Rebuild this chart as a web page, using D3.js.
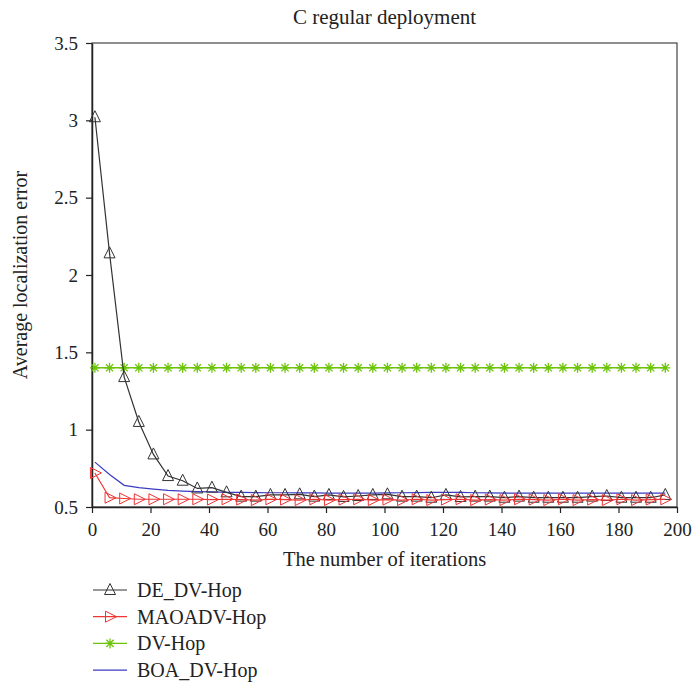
<!DOCTYPE html>
<html>
<head>
<meta charset="utf-8">
<script src="https://cdn.jsdelivr.net/npm/d3@7"></script>
<style>
  body { margin: 0; background: #fff; }
  text { font-family: "Liberation Serif", "DejaVu Serif", serif; fill: #222; }
</style>
</head>
<body>
<svg width="693" height="684"></svg>
<script>
// iteration numbers where values were sampled
var iters = [1, 6, 11, 16, 21, 26, 31, 36, 41, 46, 51, 56, 61, 66, 71, 76, 81, 86, 91, 96,
             101, 106, 111, 116, 121, 126, 131, 136, 141, 146, 151, 156, 161, 166, 171, 176, 181, 186, 191, 196];

var deDvHop = [3.02, 2.14, 1.34, 1.05, 0.84, 0.70, 0.67, 0.62, 0.625, 0.595,
               0.567, 0.567, 0.578, 0.578, 0.582, 0.567, 0.578, 0.565, 0.571, 0.578,
               0.582, 0.567, 0.567, 0.56, 0.578, 0.565, 0.567, 0.567, 0.56, 0.567,
               0.56, 0.56, 0.56, 0.56, 0.567, 0.571, 0.56, 0.56, 0.56, 0.578];

var maoaDvHop = [0.72, 0.56, 0.555, 0.55, 0.55, 0.55, 0.55, 0.55, 0.548, 0.55,
                 0.548, 0.545, 0.55, 0.548, 0.545, 0.55, 0.545, 0.548, 0.55, 0.545,
                 0.548, 0.545, 0.55, 0.545, 0.548, 0.55, 0.545, 0.548, 0.545, 0.55,
                 0.548, 0.545, 0.55, 0.545, 0.548, 0.545, 0.55, 0.545, 0.548, 0.55];

var dvHop = [1.4, 1.4, 1.4, 1.4, 1.4, 1.4, 1.4, 1.4, 1.4, 1.4,
             1.4, 1.4, 1.4, 1.4, 1.4, 1.4, 1.4, 1.4, 1.4, 1.4,
             1.4, 1.4, 1.4, 1.4, 1.4, 1.4, 1.4, 1.4, 1.4, 1.4,
             1.4, 1.4, 1.4, 1.4, 1.4, 1.4, 1.4, 1.4, 1.4, 1.4];

var boaDvHop = [0.79, 0.71, 0.64, 0.625, 0.615, 0.607, 0.603, 0.6, 0.598, 0.595,
                0.594, 0.593, 0.592, 0.592, 0.591, 0.591, 0.59, 0.59, 0.59, 0.59,
                0.591, 0.592, 0.593, 0.594, 0.595, 0.594, 0.592, 0.591, 0.59, 0.59,
                0.59, 0.59, 0.59, 0.59, 0.59, 0.59, 0.59, 0.59, 0.59, 0.59];

var xTicks = [0, 20, 40, 60, 80, 100, 120, 140, 160, 180, 200];
var yTicks = [0.5, 1, 1.5, 2, 2.5, 3, 3.5];
var yTickLabels = ["0.5", "1", "1.5", "2", "2.5", "3", "3.5"];

var seriesNames = ["DE_DV-Hop", "MAOADV-Hop", "DV-Hop", "BOA_DV-Hop"];
var seriesColors = ["#333333", "#f03434", "#6cc40a", "#3b3bc4"];
var seriesMarkers = ["triangle", "right", "star", "none"];
var seriesValues = [deDvHop, maoaDvHop, dvHop, boaDvHop];

var svg = d3.select("svg"),
    margin = {top: 43, right: 16, bottom: 177, left: 92},
    width = 693 - margin.left - margin.right,
    height = 684 - margin.top - margin.bottom;

var x = d3.scaleLinear().domain([0, 200]).range([margin.left, margin.left + width]);
var y = d3.scaleLinear().domain([0.5, 3.5]).range([margin.top + height, margin.top]);

// draw a marker at (cx, cy)
function drawMarker(g, type, cx, cy, color) {
  var s = 5.5;
  if (type === "triangle") {
    g.append("path")
      .attr("d", "M" + cx + "," + (cy - s - 1) + "L" + (cx + s) + "," + (cy + s - 1) + "L" + (cx - s) + "," + (cy + s - 1) + "Z")
      .attr("fill", "none").attr("stroke", color).attr("stroke-width", 1);
  } else if (type === "right") {
    g.append("path")
      .attr("d", "M" + (cx + s + 1) + "," + cy + "L" + (cx - s + 1) + "," + (cy - s) + "L" + (cx - s + 1) + "," + (cy + s) + "Z")
      .attr("fill", "none").attr("stroke", color).attr("stroke-width", 1);
  } else if (type === "star") {
    var r = 5, d = r * 0.72;
    g.append("path")
      .attr("d", "M" + (cx - r) + "," + cy + "L" + (cx + r) + "," + cy +
                 "M" + cx + "," + (cy - r) + "L" + cx + "," + (cy + r) +
                 "M" + (cx - d) + "," + (cy - d) + "L" + (cx + d) + "," + (cy + d) +
                 "M" + (cx - d) + "," + (cy + d) + "L" + (cx + d) + "," + (cy - d))
      .attr("fill", "none").attr("stroke", color).attr("stroke-width", 1.3);
  }
}

// box
svg.append("rect")
  .attr("x", margin.left).attr("y", margin.top)
  .attr("width", width).attr("height", height)
  .attr("fill", "none").attr("stroke", "#444").attr("stroke-width", 1.2);

// axes
var xAxis = svg.append("g")
  .attr("transform", "translate(0," + (margin.top + height) + ")")
  .call(d3.axisBottom(x).tickValues(xTicks).tickSize(6).tickSizeOuter(0));
var yAxis = svg.append("g")
  .attr("transform", "translate(" + margin.left + ",0)")
  .call(d3.axisLeft(y).tickValues(yTicks).tickSize(6).tickSizeOuter(0)
    .tickFormat(function(d, i) { return yTickLabels[i]; }));

[xAxis, yAxis].forEach(function(a) {
  a.select(".domain").attr("stroke", "#222").attr("stroke-width", 1.5);
  a.selectAll(".tick line").attr("stroke", "#222").attr("stroke-width", 1.2);
  a.selectAll(".tick text").attr("font-size", 19).attr("font-family", "Liberation Serif").attr("fill", "#222");
});
xAxis.selectAll(".tick text").attr("dy", "1.05em");
yAxis.selectAll(".tick text").attr("x", -14);

// series
var line = d3.line()
  .x(function(d) { return x(d[0]); })
  .y(function(d) { return y(d[1]); });

var plot = svg.append("g");
// draw in order: blue, green, black, red so red markers on top
[3, 2, 0, 1].forEach(function(k) {
  var pts = iters.map(function(it, i) { return [it, seriesValues[k][i]]; });
  plot.append("path")
    .datum(pts)
    .attr("d", line)
    .attr("fill", "none")
    .attr("stroke", seriesColors[k])
    .attr("stroke-width", k === 2 ? 1.5 : 1.2);
  var mg = plot.append("g");
  pts.forEach(function(p) {
    drawMarker(mg, seriesMarkers[k], x(p[0]), y(p[1]), seriesColors[k]);
  });
});

// titles
svg.append("text")
  .attr("x", margin.left + width / 2).attr("y", 24)
  .attr("text-anchor", "middle").attr("font-size", 21)
  .text("C regular deployment");

svg.append("text")
  .attr("x", margin.left + width / 2).attr("y", 566)
  .attr("text-anchor", "middle").attr("font-size", 20.5)
  .text("The number of iterations");

svg.append("text")
  .attr("transform", "translate(27," + (margin.top + height / 2) + ") rotate(-90)")
  .attr("text-anchor", "middle").attr("font-size", 20)
  .text("Average localization error");

// legend
var legend = svg.append("g");
seriesNames.forEach(function(name, i) {
  var ly = 590 + i * 26.7;
  legend.append("line")
    .attr("x1", 93).attr("x2", 127).attr("y1", ly).attr("y2", ly)
    .attr("stroke", seriesColors[i]).attr("stroke-width", 1.2);
  drawMarker(legend, seriesMarkers[i], 110, ly, seriesColors[i]);
  legend.append("text")
    .attr("x", 137).attr("y", ly + 7)
    .attr("font-size", 20)
    .text(name);
});
</script>
</body>
</html>
